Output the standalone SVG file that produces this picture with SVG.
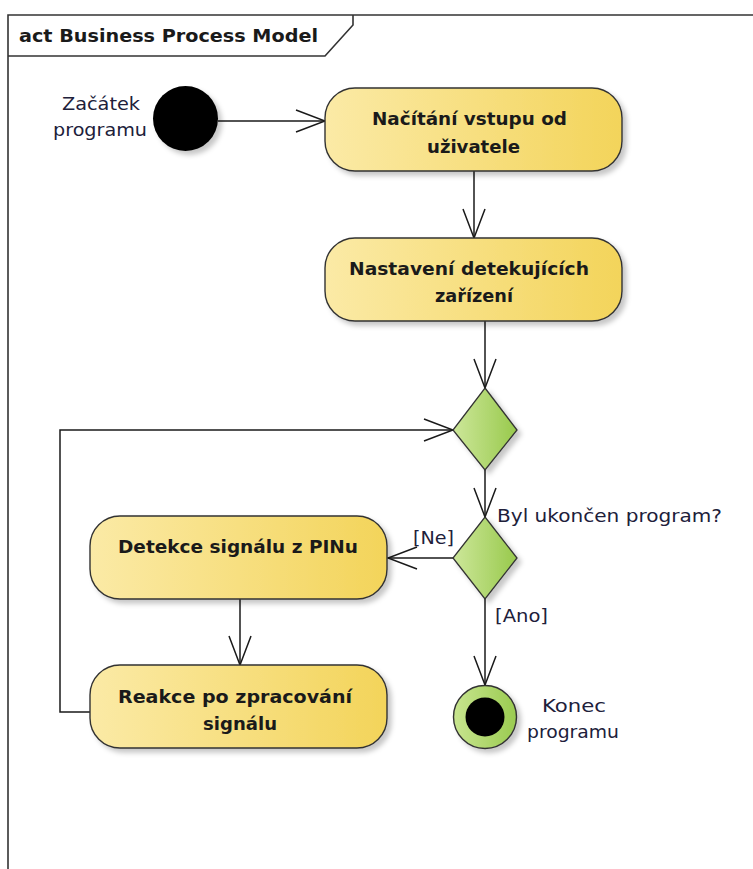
<svg xmlns="http://www.w3.org/2000/svg" width="753" height="869" viewBox="0 0 753 869">
  <style>
    .frame { fill: none; stroke: #333; stroke-width: 1.6; }
    .act { stroke: #333; stroke-width: 1.4; fill: url(#actFill); filter: url(#shadow); }
    .dec { stroke: #333; stroke-width: 1.3; fill: url(#decFill); filter: url(#shadow); }
    .flow { fill: none; stroke: #1a1a1a; stroke-width: 1.5; marker-end: url(#open); }
    .b { font-family: "DejaVu Sans", Verdana, sans-serif; font-weight: bold; font-size: 17px; fill: #1a1a1a; }
    .r { font-family: "DejaVu Sans", Verdana, sans-serif; font-size: 17px; fill: #20203a; }
    .title { font-family: "DejaVu Sans", Verdana, sans-serif; font-weight: bold; font-size: 17.5px; fill: #1a1a1a; }
  </style>
  <defs>
    <linearGradient id="actFill" x1="0" y1="0" x2="1" y2="0">
      <stop offset="0" stop-color="#fbeaa6"/>
      <stop offset="1" stop-color="#f3d45a"/>
    </linearGradient>
    <linearGradient id="decFill" x1="0" y1="0" x2="1" y2="0">
      <stop offset="0" stop-color="#cde79a"/>
      <stop offset="1" stop-color="#98c94c"/>
    </linearGradient>
    <linearGradient id="endFill" x1="0" y1="0" x2="1" y2="0">
      <stop offset="0" stop-color="#c8e58f"/>
      <stop offset="1" stop-color="#9acb50"/>
    </linearGradient>
    <filter id="shadow" x="-20%" y="-20%" width="150%" height="150%">
      <feDropShadow dx="4" dy="4" stdDeviation="2.5" flood-color="#000" flood-opacity="0.22"/>
    </filter>
    <marker id="open" viewBox="-31 -13 33 26" markerWidth="33" markerHeight="26" refX="0" refY="0" orient="auto" markerUnits="userSpaceOnUse">
      <path d="M -29 -11 L 0 0 L -29 11" fill="none" stroke="#1a1a1a" stroke-width="1.5"/>
    </marker>
  </defs>

  <rect width="753" height="869" fill="#fff"/>

  <!-- activity frame with name tab -->
  <g id="frame">
    <path class="frame" d="M 8 869 L 8 15 L 753 15"/>
    <path class="frame" d="M 8 56 L 325 56 L 353 25 L 353 15"/>
    <text class="title" x="19" y="42" textLength="299" lengthAdjust="spacingAndGlyphs">act Business Process Model</text>
  </g>

  <!-- control flows -->
  <g id="connectors">
    <path class="flow" d="M 218 121 L 325 121"/>
    <path class="flow" d="M 474 171 L 474 238"/>
    <path class="flow" d="M 485 321 L 485 388"/>
    <path class="flow" d="M 90 712 L 60 712 L 60 430 L 453 430"/>
    <path class="flow" d="M 485 470 L 485 517"/>
    <path class="flow" d="M 453 558 L 388 558"/>
    <path class="flow" d="M 240 599 L 240 665"/>
    <path class="flow" d="M 485 599 L 485 685"/>
    <text class="r" x="413" y="544" textLength="41" lengthAdjust="spacingAndGlyphs">[Ne]</text>
    <text class="r" x="495" y="622" textLength="53" lengthAdjust="spacingAndGlyphs">[Ano]</text>
  </g>

  <g id="start">
    <circle cx="185.5" cy="118.5" r="32.5" fill="#000" filter="url(#shadow)"/>
    <text class="r" x="62" y="110" textLength="78" lengthAdjust="spacingAndGlyphs">Začátek</text>
    <text class="r" x="53" y="136" textLength="94" lengthAdjust="spacingAndGlyphs">programu</text>
  </g>

  <g id="nacitani">
    <rect class="act" x="325" y="88" width="297" height="83" rx="30" ry="30"/>
    <text class="b" x="372" y="125" textLength="195" lengthAdjust="spacingAndGlyphs">Načítání vstupu od</text>
    <text class="b" x="427" y="153" textLength="93" lengthAdjust="spacingAndGlyphs">uživatele</text>
  </g>

  <g id="nastaveni">
    <rect class="act" x="325" y="238" width="297" height="83" rx="30" ry="30"/>
    <text class="b" x="349" y="275" textLength="240" lengthAdjust="spacingAndGlyphs">Nastavení detekujících</text>
    <text class="b" x="435" y="302" textLength="78" lengthAdjust="spacingAndGlyphs">zařízení</text>
  </g>

  <g id="merge">
    <path class="dec" d="M 485 388 L 517 430 L 485 470 L 453 430 Z"/>
  </g>

  <g id="decision">
    <path class="dec" d="M 485 517 L 517 558 L 485 599 L 453 558 Z"/>
    <text class="r" x="497" y="522" textLength="225" lengthAdjust="spacingAndGlyphs">Byl ukončen program?</text>
  </g>

  <g id="detekce">
    <rect class="act" x="90" y="516" width="297" height="83" rx="30" ry="30"/>
    <text class="b" x="118" y="553" textLength="240" lengthAdjust="spacingAndGlyphs">Detekce signálu z PINu</text>
  </g>

  <g id="reakce">
    <rect class="act" x="90" y="665" width="297" height="83" rx="30" ry="30"/>
    <text class="b" x="118" y="703" textLength="234" lengthAdjust="spacingAndGlyphs">Reakce po zpracování</text>
    <text class="b" x="203" y="730" textLength="74" lengthAdjust="spacingAndGlyphs">signálu</text>
  </g>

  <g id="end">
    <circle cx="485" cy="717" r="31.5" fill="url(#endFill)" stroke="#333" stroke-width="1.4" filter="url(#shadow)"/>
    <circle cx="485" cy="717" r="19.5" fill="#000"/>
    <text class="r" x="542" y="712" textLength="64" lengthAdjust="spacingAndGlyphs">Konec</text>
    <text class="r" x="527" y="738" textLength="92" lengthAdjust="spacingAndGlyphs">programu</text>
  </g>
</svg>
